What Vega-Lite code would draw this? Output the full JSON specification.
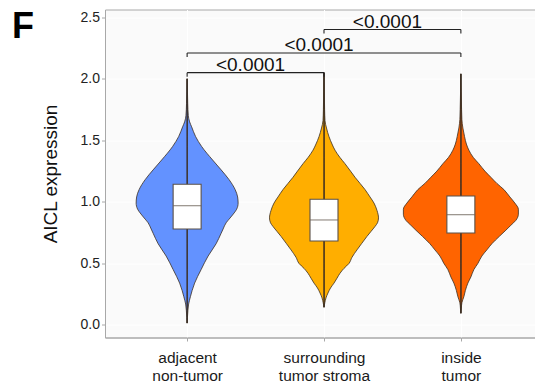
{
  "$schema": "https://vega.github.io/schema/vega-lite/v6.json",
  "width": 430,
  "height": 328,
  "autosize": {"type": "none"},
  "padding": {"left": 105, "top": 9.5, "right": 0, "bottom": 47.5},
  "background": "white",
  "title": {"text": "F", "orient": "left", "anchor": "end", "angle": 0, "align": "right", "baseline": "top", "frame": "group", "fontSize": 36, "fontWeight": "bold", "color": "#000000", "offset": -15},
  "config": {
    "font": "Liberation Sans",
    "view": {"fill": "#FAFAFA", "stroke": "#A8A8A8", "strokeWidth": 1},
    "axis": {"domainColor": "#A8A8A8", "tickColor": "#A8A8A8", "tickSize": 3.5, "labelFontSize": 14, "labelColor": "#222222", "titleFontWeight": "normal", "titleFontSize": 19, "titleColor": "#111111", "gridColor": "#FFFFFF", "gridWidth": 1},
    "axisY": {"labelPadding": 2, "titlePadding": 20},
    "axisX": {"labelFontSize": 15.5, "labelPadding": 9, "labelLineHeight": 18.4, "labelColor": "#1a1a1a"}
  },
  "datasets": {
    "violin": [
      {"group": "adjacent non-tumor", "value": 2.00, "density": 0},
      {"group": "adjacent non-tumor", "value": 1.90, "density": 0.006},
      {"group": "adjacent non-tumor", "value": 1.80, "density": 0.012},
      {"group": "adjacent non-tumor", "value": 1.70, "density": 0.024},
      {"group": "adjacent non-tumor", "value": 1.65, "density": 0.05},
      {"group": "adjacent non-tumor", "value": 1.61, "density": 0.09},
      {"group": "adjacent non-tumor", "value": 1.53, "density": 0.17},
      {"group": "adjacent non-tumor", "value": 1.45, "density": 0.29},
      {"group": "adjacent non-tumor", "value": 1.34, "density": 0.51},
      {"group": "adjacent non-tumor", "value": 1.26, "density": 0.68},
      {"group": "adjacent non-tumor", "value": 1.18, "density": 0.84},
      {"group": "adjacent non-tumor", "value": 1.10, "density": 0.96},
      {"group": "adjacent non-tumor", "value": 1.04, "density": 1.01},
      {"group": "adjacent non-tumor", "value": 0.99, "density": 1.02},
      {"group": "adjacent non-tumor", "value": 0.94, "density": 0.99},
      {"group": "adjacent non-tumor", "value": 0.91, "density": 0.94},
      {"group": "adjacent non-tumor", "value": 0.86, "density": 0.84},
      {"group": "adjacent non-tumor", "value": 0.83, "density": 0.78},
      {"group": "adjacent non-tumor", "value": 0.78, "density": 0.72},
      {"group": "adjacent non-tumor", "value": 0.745, "density": 0.68},
      {"group": "adjacent non-tumor", "value": 0.66, "density": 0.58},
      {"group": "adjacent non-tumor", "value": 0.56, "density": 0.42},
      {"group": "adjacent non-tumor", "value": 0.45, "density": 0.28},
      {"group": "adjacent non-tumor", "value": 0.34, "density": 0.15},
      {"group": "adjacent non-tumor", "value": 0.28, "density": 0.10},
      {"group": "adjacent non-tumor", "value": 0.23, "density": 0.066},
      {"group": "adjacent non-tumor", "value": 0.17, "density": 0.03},
      {"group": "adjacent non-tumor", "value": 0.12, "density": 0.016},
      {"group": "adjacent non-tumor", "value": 0.06, "density": 0.006},
      {"group": "adjacent non-tumor", "value": 0.015, "density": 0},
      {"group": "surrounding tumor stroma", "value": 2.05, "density": 0},
      {"group": "surrounding tumor stroma", "value": 1.90, "density": 0.006},
      {"group": "surrounding tumor stroma", "value": 1.75, "density": 0.012},
      {"group": "surrounding tumor stroma", "value": 1.66, "density": 0.02},
      {"group": "surrounding tumor stroma", "value": 1.60, "density": 0.05},
      {"group": "surrounding tumor stroma", "value": 1.53, "density": 0.10},
      {"group": "surrounding tumor stroma", "value": 1.47, "density": 0.16},
      {"group": "surrounding tumor stroma", "value": 1.42, "density": 0.22},
      {"group": "surrounding tumor stroma", "value": 1.36, "density": 0.32},
      {"group": "surrounding tumor stroma", "value": 1.31, "density": 0.42},
      {"group": "surrounding tumor stroma", "value": 1.25, "density": 0.53},
      {"group": "surrounding tumor stroma", "value": 1.20, "density": 0.62},
      {"group": "surrounding tumor stroma", "value": 1.10, "density": 0.82},
      {"group": "surrounding tumor stroma", "value": 1.04, "density": 0.92},
      {"group": "surrounding tumor stroma", "value": 0.99, "density": 1.00},
      {"group": "surrounding tumor stroma", "value": 0.93, "density": 1.06},
      {"group": "surrounding tumor stroma", "value": 0.87, "density": 1.09},
      {"group": "surrounding tumor stroma", "value": 0.83, "density": 1.07},
      {"group": "surrounding tumor stroma", "value": 0.80, "density": 1.02},
      {"group": "surrounding tumor stroma", "value": 0.76, "density": 0.94},
      {"group": "surrounding tumor stroma", "value": 0.72, "density": 0.86},
      {"group": "surrounding tumor stroma", "value": 0.66, "density": 0.75},
      {"group": "surrounding tumor stroma", "value": 0.61, "density": 0.66},
      {"group": "surrounding tumor stroma", "value": 0.55, "density": 0.56},
      {"group": "surrounding tumor stroma", "value": 0.50, "density": 0.50},
      {"group": "surrounding tumor stroma", "value": 0.46, "density": 0.40},
      {"group": "surrounding tumor stroma", "value": 0.42, "density": 0.32},
      {"group": "surrounding tumor stroma", "value": 0.38, "density": 0.26},
      {"group": "surrounding tumor stroma", "value": 0.34, "density": 0.20},
      {"group": "surrounding tumor stroma", "value": 0.30, "density": 0.13},
      {"group": "surrounding tumor stroma", "value": 0.26, "density": 0.08},
      {"group": "surrounding tumor stroma", "value": 0.22, "density": 0.04},
      {"group": "surrounding tumor stroma", "value": 0.18, "density": 0.016},
      {"group": "surrounding tumor stroma", "value": 0.144, "density": 0},
      {"group": "inside tumor", "value": 2.04, "density": 0},
      {"group": "inside tumor", "value": 1.90, "density": 0.006},
      {"group": "inside tumor", "value": 1.75, "density": 0.014},
      {"group": "inside tumor", "value": 1.67, "density": 0.02},
      {"group": "inside tumor", "value": 1.60, "density": 0.04},
      {"group": "inside tumor", "value": 1.53, "density": 0.074},
      {"group": "inside tumor", "value": 1.47, "density": 0.11},
      {"group": "inside tumor", "value": 1.42, "density": 0.16},
      {"group": "inside tumor", "value": 1.36, "density": 0.25},
      {"group": "inside tumor", "value": 1.31, "density": 0.36},
      {"group": "inside tumor", "value": 1.25, "density": 0.48},
      {"group": "inside tumor", "value": 1.20, "density": 0.60},
      {"group": "inside tumor", "value": 1.15, "density": 0.72},
      {"group": "inside tumor", "value": 1.10, "density": 0.86},
      {"group": "inside tumor", "value": 1.04, "density": 0.98},
      {"group": "inside tumor", "value": 0.99, "density": 1.08},
      {"group": "inside tumor", "value": 0.94, "density": 1.15},
      {"group": "inside tumor", "value": 0.90, "density": 1.15},
      {"group": "inside tumor", "value": 0.85, "density": 1.10},
      {"group": "inside tumor", "value": 0.81, "density": 1.00},
      {"group": "inside tumor", "value": 0.77, "density": 0.90},
      {"group": "inside tumor", "value": 0.72, "density": 0.77},
      {"group": "inside tumor", "value": 0.66, "density": 0.62},
      {"group": "inside tumor", "value": 0.61, "density": 0.52},
      {"group": "inside tumor", "value": 0.56, "density": 0.42},
      {"group": "inside tumor", "value": 0.50, "density": 0.34},
      {"group": "inside tumor", "value": 0.45, "density": 0.26},
      {"group": "inside tumor", "value": 0.39, "density": 0.20},
      {"group": "inside tumor", "value": 0.34, "density": 0.14},
      {"group": "inside tumor", "value": 0.28, "density": 0.09},
      {"group": "inside tumor", "value": 0.23, "density": 0.06},
      {"group": "inside tumor", "value": 0.18, "density": 0.02},
      {"group": "inside tumor", "value": 0.13, "density": 0.008},
      {"group": "inside tumor", "value": 0.095, "density": 0}
    ],
    "boxes": [
      {"group": "adjacent non-tumor", "min": 0.015, "q1": 0.780, "median": 0.969, "q3": 1.143, "max": 2.00},
      {"group": "surrounding tumor stroma", "min": 0.144, "q1": 0.682, "median": 0.853, "q3": 1.021, "max": 2.05},
      {"group": "inside tumor", "min": 0.095, "q1": 0.747, "median": 0.896, "q3": 1.048, "max": 2.04}
    ],
    "brackets": [
      {"from": 1, "to": 2, "y": 2.05, "label": "<0.0001"},
      {"from": 1, "to": 3, "y": 2.21, "label": "<0.0001"},
      {"from": 2, "to": 3, "y": 2.40, "label": "<0.0001"}
    ]
  },
  "layer": [
    {
      "data": {"name": "violin"},
      "transform": [{"filter": "datum.group === 'adjacent non-tumor'"}],
      "mark": {"type": "area", "orient": "horizontal", "interpolate": "monotone", "fill": "#6392FF", "stroke": "#3a2d22", "strokeWidth": 0.8},
      "encoding": {
        "y": {"field": "value", "type": "quantitative", "title": "AICL expression", "scale": {"domain": [-0.102, 2.563], "nice": false, "zero": false},
          "axis": {"values": [0, 0.25, 0.5, 0.75, 1, 1.25, 1.5, 1.75, 2, 2.25, 2.5], "labelExpr": "datum.value % 0.5 === 0 ? format(datum.value, '.1f') : ''", "tickOpacity": {"condition": {"test": "datum.value % 0.5 === 0", "value": 1}, "value": 0}, "grid": true}},
        "x": {"field": "density", "type": "quantitative", "scale": {"domain": [-1.6425, 7.1175], "range": [0, 438], "nice": false, "zero": false}, "axis": null},
        "x2": {"datum": 0}
      }
    },
    {
      "data": {"name": "violin"},
      "transform": [{"filter": "datum.group === 'adjacent non-tumor'"}],
      "mark": {"type": "area", "orient": "horizontal", "interpolate": "monotone", "fill": "#6392FF", "stroke": "#3a2d22", "strokeWidth": 0.8},
      "encoding": {
        "y": {"field": "value", "type": "quantitative", "title": "AICL expression", "scale": {"domain": [-0.102, 2.563], "nice": false, "zero": false}},
        "x": {"field": "density", "type": "quantitative", "scale": {"domain": [-7.1175, 1.6425], "range": [438, 0], "nice": false, "zero": false}, "axis": null},
        "x2": {"datum": 0}
      }
    },
    {
      "data": {"name": "violin"},
      "transform": [{"filter": "datum.group === 'surrounding tumor stroma'"}],
      "mark": {"type": "area", "orient": "horizontal", "interpolate": "monotone", "fill": "#FFAE00", "stroke": "#3a2d22", "strokeWidth": 0.8},
      "encoding": {
        "y": {"field": "value", "type": "quantitative", "title": "AICL expression", "scale": {"domain": [-0.102, 2.563], "nice": false, "zero": false}},
        "x": {"field": "density", "type": "quantitative", "scale": {"domain": [-4.38, 4.38], "range": [0, 438], "nice": false, "zero": false}, "axis": null},
        "x2": {"datum": 0}
      }
    },
    {
      "data": {"name": "violin"},
      "transform": [{"filter": "datum.group === 'surrounding tumor stroma'"}],
      "mark": {"type": "area", "orient": "horizontal", "interpolate": "monotone", "fill": "#FFAE00", "stroke": "#3a2d22", "strokeWidth": 0.8},
      "encoding": {
        "y": {"field": "value", "type": "quantitative", "title": "AICL expression", "scale": {"domain": [-0.102, 2.563], "nice": false, "zero": false}},
        "x": {"field": "density", "type": "quantitative", "scale": {"domain": [-4.38, 4.38], "range": [438, 0], "nice": false, "zero": false}, "axis": null},
        "x2": {"datum": 0}
      }
    },
    {
      "data": {"name": "violin"},
      "transform": [{"filter": "datum.group === 'inside tumor'"}],
      "mark": {"type": "area", "orient": "horizontal", "interpolate": "monotone", "fill": "#FF6400", "stroke": "#3a2d22", "strokeWidth": 0.8},
      "encoding": {
        "y": {"field": "value", "type": "quantitative", "title": "AICL expression", "scale": {"domain": [-0.102, 2.563], "nice": false, "zero": false}},
        "x": {"field": "density", "type": "quantitative", "scale": {"domain": [-7.1175, 1.6425], "range": [0, 438], "nice": false, "zero": false}, "axis": null},
        "x2": {"datum": 0}
      }
    },
    {
      "data": {"name": "violin"},
      "transform": [{"filter": "datum.group === 'inside tumor'"}],
      "mark": {"type": "area", "orient": "horizontal", "interpolate": "monotone", "fill": "#FF6400", "stroke": "#3a2d22", "strokeWidth": 0.8},
      "encoding": {
        "y": {"field": "value", "type": "quantitative", "title": "AICL expression", "scale": {"domain": [-0.102, 2.563], "nice": false, "zero": false}},
        "x": {"field": "density", "type": "quantitative", "scale": {"domain": [-1.6425, 7.1175], "range": [438, 0], "nice": false, "zero": false}, "axis": null},
        "x2": {"datum": 0}
      }
    },
    {
      "data": {"name": "boxes"},
      "encoding": {
        "x": {"field": "group", "type": "nominal", "title": null, "sort": ["adjacent non-tumor", "surrounding tumor stroma", "inside tumor"],
          "scale": {"type": "point", "domain": ["adjacent non-tumor", "surrounding tumor stroma", "inside tumor"], "range": [0, 438], "padding": 0.6},
          "axis": {"labelAngle": 0, "grid": true, "labelExpr": "datum.value === 'adjacent non-tumor' ? ['adjacent', 'non-tumor'] : datum.value === 'surrounding tumor stroma' ? ['surrounding', 'tumor stroma'] : ['inside', 'tumor']"}}
      },
      "layer": [
        {
          "mark": {"type": "rule", "color": "#3a2d22", "strokeWidth": 1},
          "encoding": {
            "y": {"field": "min", "type": "quantitative", "title": "AICL expression", "scale": {"domain": [-0.102, 2.563], "nice": false, "zero": false}},
            "y2": {"field": "max"}
          }
        },
        {
          "mark": {"type": "bar", "width": 28, "fill": "#FFFFFF", "stroke": "#5b5148", "strokeWidth": 1.1},
          "encoding": {
            "y": {"field": "q1", "type": "quantitative", "title": "AICL expression", "scale": {"domain": [-0.102, 2.563], "nice": false, "zero": false}},
            "y2": {"field": "q3"}
          }
        },
        {
          "mark": {"type": "tick", "size": 28, "thickness": 1.2, "color": "#6a5f56", "orient": "horizontal"},
          "encoding": {
            "y": {"field": "median", "type": "quantitative", "title": "AICL expression", "scale": {"domain": [-0.102, 2.563], "nice": false, "zero": false}}
          }
        }
      ]
    },
    {
      "data": {"name": "brackets"},
      "layer": [
        {
          "mark": {"type": "rule", "color": "#222222", "strokeWidth": 1.1},
          "encoding": {
            "x": {"field": "from", "type": "quantitative", "scale": {"domain": [0.4, 3.6], "range": [0, 438], "nice": false, "zero": false}, "axis": null},
            "x2": {"field": "to"},
            "y": {"field": "y", "type": "quantitative", "title": "AICL expression", "scale": {"domain": [-0.102, 2.563], "nice": false, "zero": false}}
          }
        },
        {
          "transform": [{"fold": ["from", "to"], "as": ["end", "pos"]}],
          "mark": {"type": "rule", "color": "#222222", "strokeWidth": 1.1, "y2Offset": 4},
          "encoding": {
            "x": {"field": "pos", "type": "quantitative", "scale": {"domain": [0.4, 3.6], "range": [0, 438], "nice": false, "zero": false}, "axis": null},
            "y": {"field": "y", "type": "quantitative", "title": "AICL expression", "scale": {"domain": [-0.102, 2.563], "nice": false, "zero": false}},
            "y2": {"field": "y"}
          }
        },
        {
          "transform": [
            {"fold": ["from", "to"], "as": ["end", "pos"]},
            {"aggregate": [{"op": "mean", "field": "pos", "as": "mid"}], "groupby": ["y", "label"]}
          ],
          "mark": {"type": "text", "fontSize": 19, "baseline": "alphabetic", "dy": -2, "dx": -5, "color": "#111111"},
          "encoding": {
            "x": {"field": "mid", "type": "quantitative", "scale": {"domain": [0.4, 3.6], "range": [0, 438], "nice": false, "zero": false}, "axis": null},
            "y": {"field": "y", "type": "quantitative", "title": "AICL expression", "scale": {"domain": [-0.102, 2.563], "nice": false, "zero": false}},
            "text": {"field": "label"}
          }
        }
      ]
    }
  ],
  "resolve": {"scale": {"x": "independent"}, "axis": {"x": "independent"}}
}
